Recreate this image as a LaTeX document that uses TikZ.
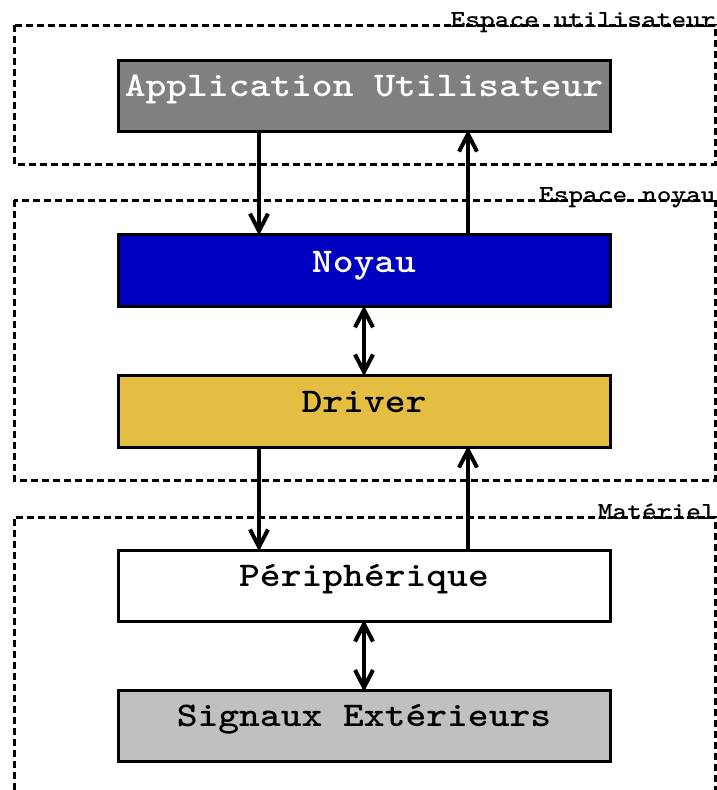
\documentclass[tikz,border=0pt]{standalone}
\usepackage{fontspec}
\newfontfamily\slabmono{lmmonolt10-bold.otf}[FakeStretch=1.143]
\usetikzlibrary{arrows.meta}
\definecolor{appgray}{RGB}{128,128,128}
\definecolor{kernblue}{RGB}{0,0,192}
\definecolor{drvyellow}{RGB}{227,190,66}
\definecolor{siggray}{RGB}{192,192,192}
\tikzset{
  barb/.tip={Straight Barb[length=13pt, width=13.5pt, line width=3pt, line join=miter]},
  layer/.style={draw=black, line width=2.25pt, minimum width=369pt, inner xsep=0pt, inner ysep=0pt,
    text height=27pt, text depth=26.25pt, font=\slabmono\fontsize{26}{26}\selectfont},
  zone/.style={draw=black, line width=2.25pt, dash pattern=on 5.25pt off 3pt},
  zonelabel/.style={anchor=base east, inner sep=0pt, font=\slabmono\fontsize{18.4}{18.4}\selectfont},
  link/.style={draw=black, line width=3pt, -barb, shorten >=-2pt},
  duplex/.style={draw=black, line width=3pt, barb-barb, shorten >=-2pt, shorten <=-2pt}
}
\begin{document}
\begin{tikzpicture}[x=0.75pt, y=-0.75pt]
\useasboundingbox (0,0) rectangle (717,790);

% dashed zones
\draw[zone] (14,25) rectangle (715,164);
\draw[zone] (14,200) rectangle (715,480);
\draw[zone] (14,790) -- (14,517) -- (715,517) -- (715,790);
\node[zonelabel] (zuser) at (716,27) {Espace utilisateur};
\node[zonelabel] (zkern) at (716,202) {Espace noyau};
\node[zonelabel] (zhw) at (716,519) {Matériel};

% stack of layers
\node[layer, fill=appgray, text=white] (app) at (364,95.5) {Application Utilisateur};
\node[layer, fill=kernblue, text=white, text height=29pt, text depth=25.5pt] (noyau) at (364,270.5) {Noyau};
\node[layer, fill=drvyellow, text height=28pt, text depth=26pt] (driver) at (364,411) {Driver};
\node[layer, fill=white] (periph) at (364,585.5) {Périphérique};
\node[layer, fill=siggray] (signaux) at (364,726) {Signaux Extérieurs};

% arrow columns
\coordinate (down) at (259,0);
\coordinate (up) at (468,0);
\coordinate (mid) at (364,0);

\draw[link] (app.south -| down) -- (noyau.north -| down);
\draw[link] (noyau.north -| up) -- (app.south -| up);
\draw[duplex] (noyau.south -| mid) -- (driver.north -| mid);
\draw[link] (driver.south -| down) -- (periph.north -| down);
\draw[link] (periph.north -| up) -- (driver.south -| up);
\draw[duplex] (periph.south -| mid) -- (signaux.north -| mid);
\end{tikzpicture}
\end{document}
